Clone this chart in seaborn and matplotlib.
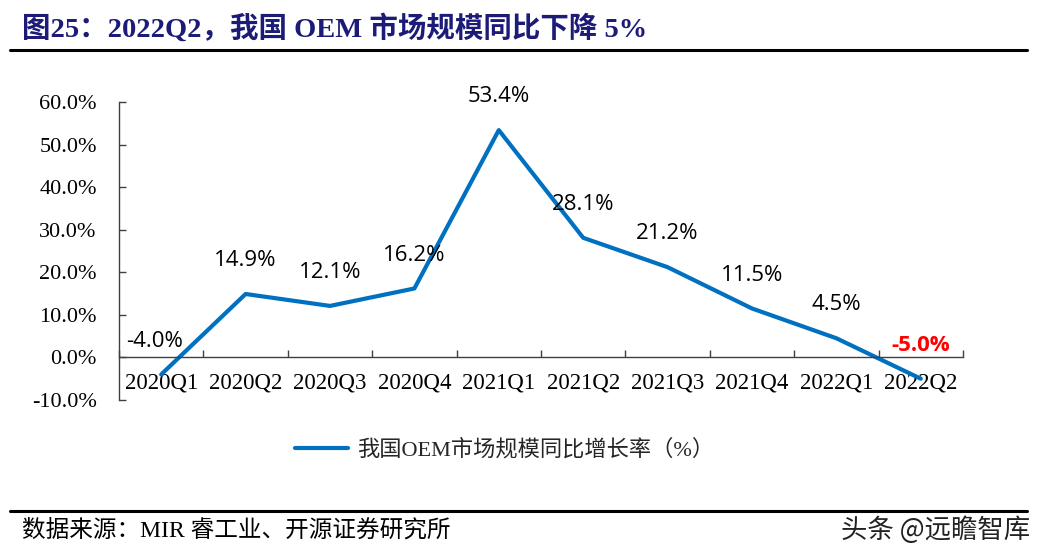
import matplotlib
matplotlib.use("Agg")
import matplotlib.pyplot as plt
import seaborn as sns
import pandas as pd
import numpy as np
from matplotlib.lines import Line2D

categories = ["2020Q1", "2020Q2", "2020Q3", "2020Q4", "2021Q1",
              "2021Q2", "2021Q3", "2021Q4", "2022Q1", "2022Q2"]
growth = [-4.0, 14.9, 12.1, 16.2, 53.4, 28.1, 21.2, 11.5, 4.5, -5.0]
y_ticks = [-10, 0, 10, 20, 30, 40, 50, 60]
series_name = "我国OEM市场规模同比增长率（%）"
title = "图25：2022Q2，我国 OEM 市场规模同比下降 5%"
source = "数据来源：MIR 睿工业、开源证券研究所"
watermark = "头条 @远瞻智库"

sns.set_theme(style="white")
plt.rcParams['font.family'] = ['Liberation Serif', 'Noto Sans CJK SC', 'DejaVu Sans']

df = pd.DataFrame({"pos": np.arange(len(categories)), "val": growth})

fig = plt.figure(figsize=(10.39, 5.56), dpi=100)
ax = fig.add_axes([119/1039, 1-400/556, (963-119)/1039, (400-102)/556])

blue = "#0070C0"
sns.lineplot(data=df, x="pos", y="val", ax=ax, color=blue, linewidth=3.0,
             label=series_name, legend=False)

ax.set_xlim(-0.5, len(categories) - 0.5)
ax.set_ylim(-10, 60)
ax.set_yticks(y_ticks)
ax.set_yticklabels([f"{v:.1f}%" for v in y_ticks])
ax.set_xticks(df["pos"])
ax.set_xticklabels(categories)
ax.set_xticks(np.arange(-0.5, len(categories), 1.0), minor=True)
ax.set_xlabel("")
ax.set_ylabel("")

for s in ["top", "right"]:
    ax.spines[s].set_visible(False)
ax.spines["bottom"].set_position(("data", 0))
spine_col = "#404040"
ax.spines["bottom"].set_color(spine_col)
ax.spines["left"].set_color(spine_col)
ax.spines["bottom"].set_linewidth(1.0)
ax.spines["left"].set_linewidth(1.0)

ax.tick_params(axis="x", which="major", length=0, pad=11, labelsize=16.5, colors="black")
ax.tick_params(axis="x", which="minor", direction="in", length=5, width=1, color=spine_col)
ax.tick_params(axis="y", which="major", direction="in", length=5, width=1, color=spine_col,
               pad=16, labelsize=16, labelcolor="black")
ax.tick_params(left=True, bottom=True, which="both")

for i, v in enumerate(growth):
    dx = -5 if i == 0 else 0
    if i == len(growth) - 1:
        ax.annotate(f"{v:.1f}%", (i, v), xytext=(dx, 24), textcoords="offset points",
                    ha="center", va="center", fontsize=16, color="#FF0000",
                    fontweight="bold", family=["Open Sans", "DejaVu Sans"])
    else:
        ax.annotate(f"{v:.1f}%", (i, v), xytext=(dx, 24), textcoords="offset points",
                    ha="center", va="center", fontsize=16, color="black",
                    family=["Open Sans", "DejaVu Sans"])

# legend
handle = Line2D([], [], color=blue, linewidth=3.0)
fig.legend([handle], [series_name], loc="center left",
           bbox_to_anchor=(275/1039, 1-450/556), frameon=False,
           handlelength=2.4, handletextpad=0.4,
           prop={"family": ['Liberation Serif', 'Noto Sans CJK SC'], "size": 16})

# title and rules
fig.text(22/1039, 1-28/556, title, ha="left", va="center", fontsize=20.5,
         fontweight="bold", color="#1C1C78",
         family=['Liberation Serif', 'Noto Sans CJK SC'])
fig.add_artist(Line2D([10/1039, 1027/1039], [1-50/556, 1-50/556],
                      color="black", linewidth=2.2, transform=fig.transFigure))
fig.add_artist(Line2D([10/1039, 1027/1039], [1-511/556, 1-511/556],
                      color="black", linewidth=2.2, transform=fig.transFigure))
fig.text(22/1039, 1-530/556, source, ha="left", va="center", fontsize=17,
         color="black", family=['Liberation Serif', 'Noto Sans CJK SC'])
fig.text(1030/1039, 1-530/556, watermark, ha="right", va="center", fontsize=19,
         color="#222222", family=['Noto Sans CJK SC', 'DejaVu Sans'])

fig.savefig("out.png", dpi=100)
